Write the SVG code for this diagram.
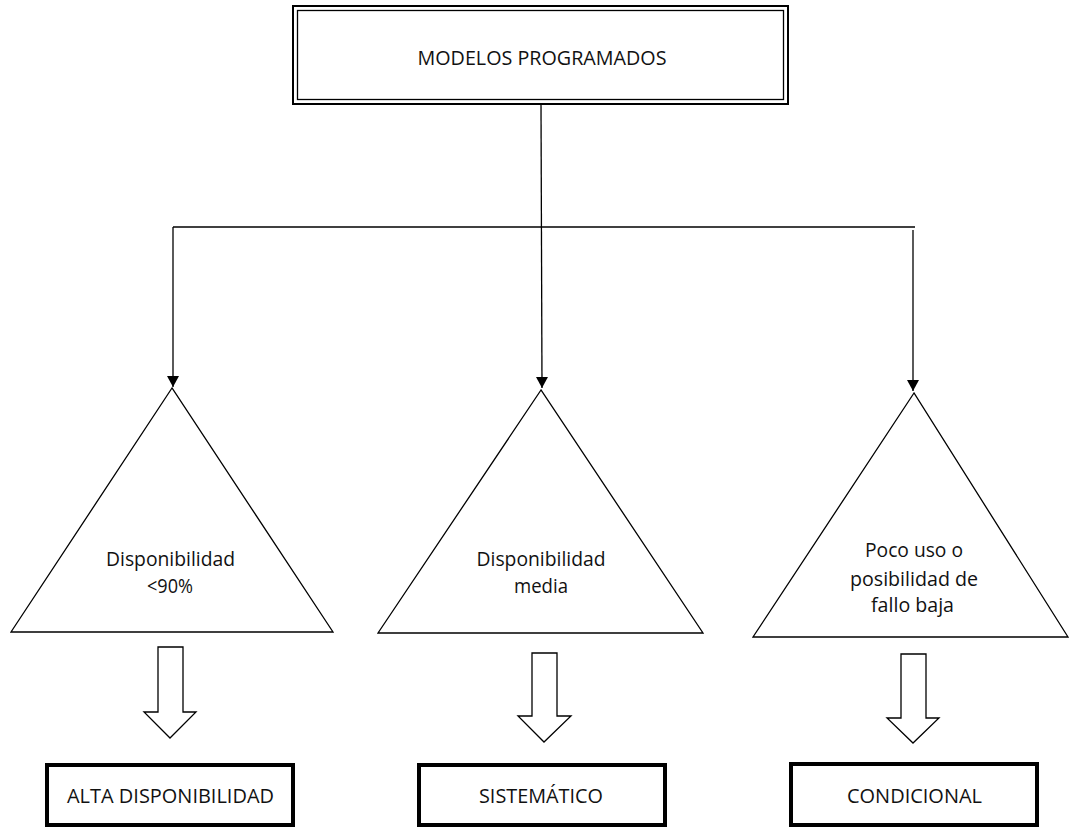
<svg xmlns="http://www.w3.org/2000/svg" width="1070" height="828" viewBox="0 0 1070 828">
  <style>
    .txt { font-family: "Open Sans", "Liberation Sans", sans-serif; font-size: 19.5px; fill: #111; text-anchor: middle; }
    .thin { fill: none; stroke: #000; stroke-width: 1.3; }
    .shape { fill: #fff; stroke: #000; stroke-width: 1.3; stroke-linejoin: miter; }
    .result { fill: #fff; stroke: #000; stroke-width: 4; }
  </style>
  <defs>
    <marker id="arrowhead" viewBox="0 0 11 12" refX="11" refY="6" markerWidth="11" markerHeight="12" markerUnits="userSpaceOnUse" orient="auto">
      <path d="M0,0 L11,6 L0,12 z" fill="#000"/>
    </marker>
  </defs>
  <rect width="1070" height="828" fill="#fff"/>

  <!-- root node: double-framed box -->
  <g id="modelos-programados">
    <rect x="293" y="6" width="495" height="98" fill="#fff" stroke="#000" stroke-width="2"/>
    <rect x="297.5" y="10.5" width="486" height="89" fill="none" stroke="#000" stroke-width="1.3"/>
    <text class="txt" x="542" y="65" textLength="249" lengthAdjust="spacingAndGlyphs">MODELOS PROGRAMADOS</text>
  </g>

  <!-- connectors from the root to the three criteria -->
  <g id="connectors">
    <path class="thin" d="M173,227 L915,227"/>
    <path class="thin" d="M541,104 L542,388" marker-end="url(#arrowhead)"/>
    <path class="thin" d="M173,227 L173,387" marker-end="url(#arrowhead)"/>
    <path class="thin" d="M913,230 L913,391" marker-end="url(#arrowhead)"/>
  </g>

  <!-- criteria triangles -->
  <g id="criterio-alta">
    <polygon class="shape" points="172,388 11,632 333,632"/>
    <text class="txt" x="170.5" y="566" textLength="129" lengthAdjust="spacingAndGlyphs">Disponibilidad</text>
    <text class="txt" x="170" y="593" textLength="46" lengthAdjust="spacingAndGlyphs">&lt;90%</text>
  </g>
  <g id="criterio-media">
    <polygon class="shape" points="541,390 378,633 703,633"/>
    <text class="txt" x="541" y="566" textLength="129" lengthAdjust="spacingAndGlyphs">Disponibilidad</text>
    <text class="txt" x="541" y="593" textLength="54" lengthAdjust="spacingAndGlyphs">media</text>
  </g>
  <g id="criterio-baja">
    <polygon class="shape" points="914,393 753,637 1068,637"/>
    <text class="txt" x="914" y="557" textLength="98" lengthAdjust="spacingAndGlyphs">Poco uso o</text>
    <text class="txt" x="914" y="586" textLength="128" lengthAdjust="spacingAndGlyphs">posibilidad de</text>
    <text class="txt" x="912.5" y="612" textLength="83" lengthAdjust="spacingAndGlyphs">fallo baja</text>
  </g>

  <!-- hollow block arrows -->
  <g id="flecha-1">
    <polygon class="shape" points="158,647 183,647 183,712 196,712 170,738 144,712 158,712"/>
  </g>
  <g id="flecha-2">
    <polygon class="shape" points="532,653 557,653 557,716 571,716 544,742 518,716 532,716"/>
  </g>
  <g id="flecha-3">
    <polygon class="shape" points="901,654 926,654 926,718 939,718 913,743 887,718 901,718"/>
  </g>

  <!-- resulting maintenance types -->
  <g id="alta-disponibilidad">
    <rect class="result" x="47" y="765" width="246" height="60"/>
    <text class="txt" x="170.5" y="803" textLength="207" lengthAdjust="spacingAndGlyphs">ALTA DISPONIBILIDAD</text>
  </g>
  <g id="sistematico">
    <rect class="result" x="419" y="765" width="246" height="60"/>
    <text class="txt" x="541" y="803" textLength="124" lengthAdjust="spacingAndGlyphs">SISTEMÁTICO</text>
  </g>
  <g id="condicional">
    <rect class="result" x="791" y="764" width="246" height="61"/>
    <text class="txt" x="914.5" y="803" textLength="135" lengthAdjust="spacingAndGlyphs">CONDICIONAL</text>
  </g>
</svg>
